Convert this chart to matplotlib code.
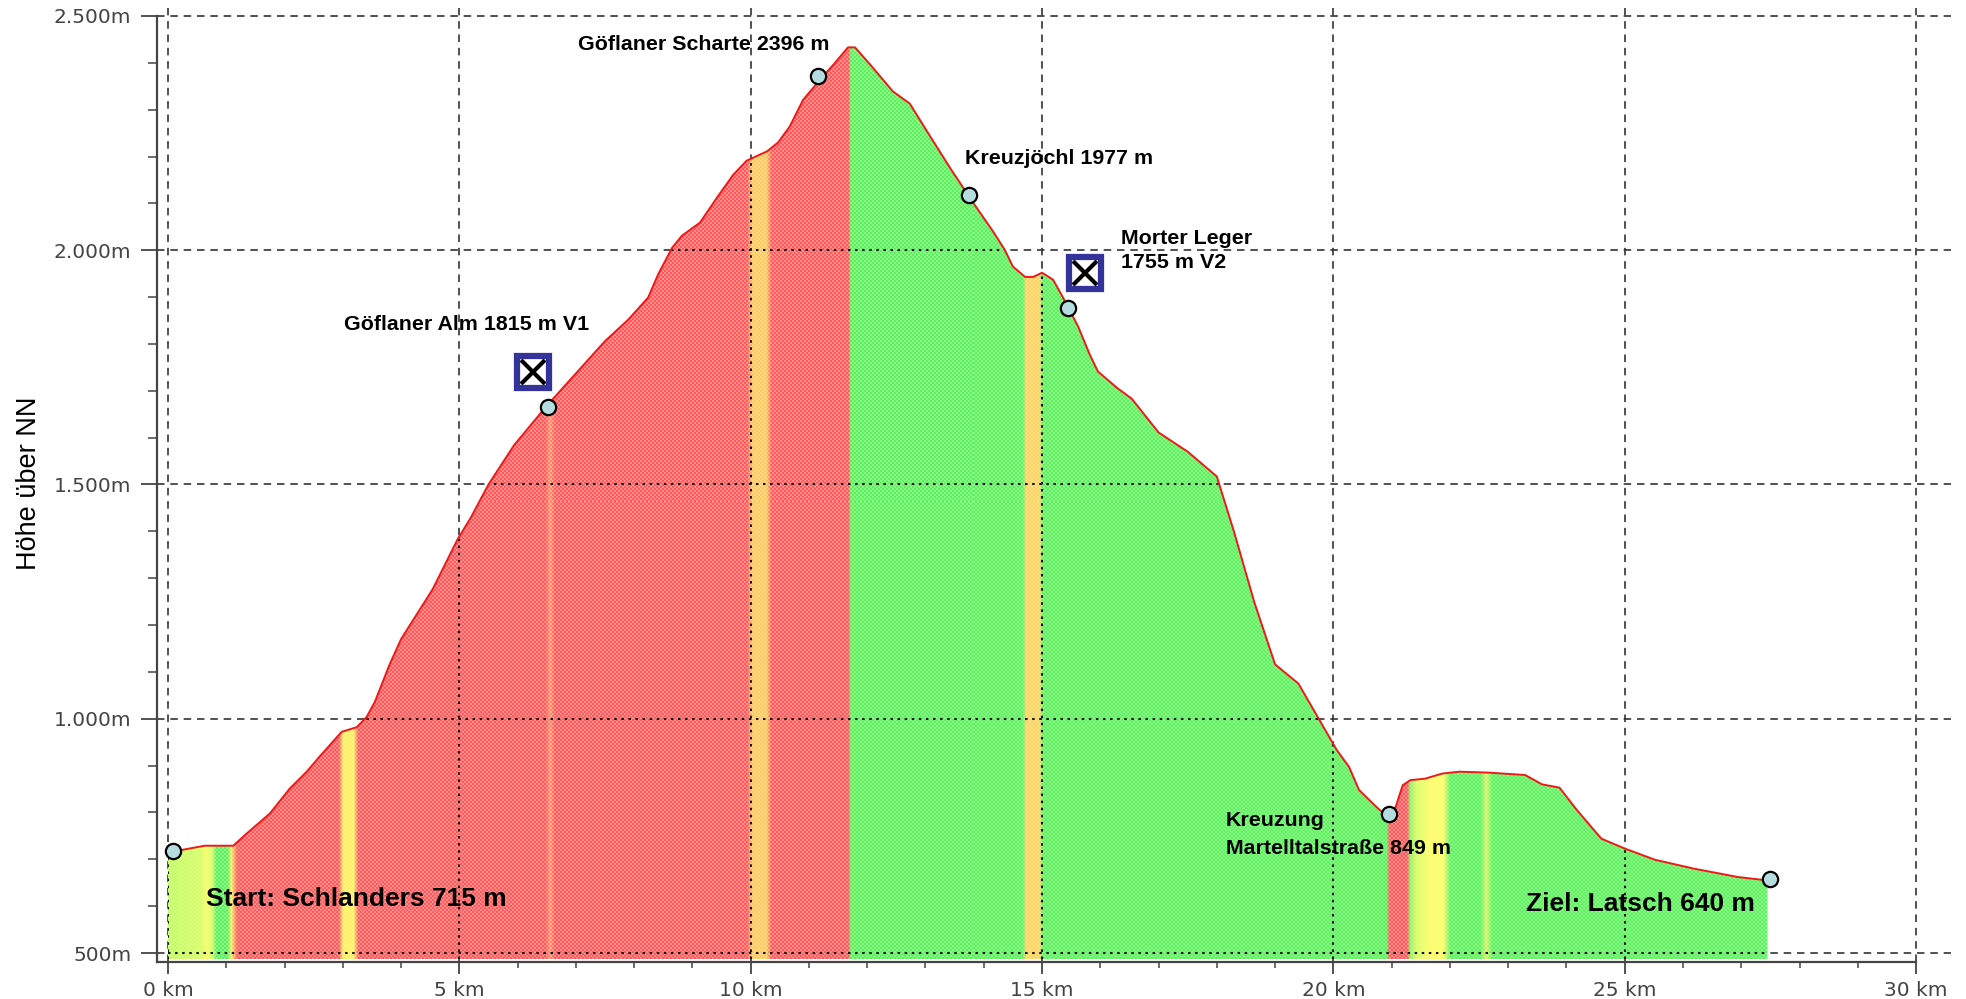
import numpy as np
import matplotlib
matplotlib.use('Agg')
import matplotlib.pyplot as plt
from matplotlib.colors import to_rgb

# elevation profile
profile_km = [0.0, 0.15, 0.63, 1.12, 1.35, 1.75, 2.09, 2.38, 2.6, 2.98, 3.24, 3.41, 3.55, 3.8, 4.0, 4.54,
              4.97, 5.2, 5.5, 5.94, 6.48, 7.0, 7.5, 7.9, 8.24, 8.41, 8.65, 8.82, 9.13, 9.42, 9.7, 9.93,
              10.28, 10.47, 10.67, 10.9, 11.19, 11.42, 11.67, 11.79, 12.08, 12.44, 12.73, 13.03, 13.42,
              13.82, 14.16, 14.36, 14.5, 14.71, 14.85, 15.0, 15.19, 15.36, 15.62, 15.82, 15.96, 16.29,
              16.54, 17.0, 17.5, 18.0, 18.3, 18.64, 19.0, 19.4, 20.06, 20.27, 20.44, 20.77, 20.94, 21.07,
              21.19, 21.32, 21.57, 21.87, 22.16, 22.66, 23.29, 23.58, 23.88, 24.18, 24.6, 25.0, 25.52,
              26.19, 26.95, 27.45]
profile_m = [715, 718, 729, 729, 755, 798, 851, 887, 919, 972, 982, 1004, 1036, 1115, 1170, 1276,
             1383, 1430, 1500, 1584, 1665, 1737, 1806, 1852, 1899, 1948, 2005, 2031, 2059, 2112, 2161, 2191,
             2211, 2230, 2264, 2321, 2364, 2396, 2433, 2433, 2392, 2339, 2313, 2253, 2176,
             2101, 2040, 2001, 1965, 1943, 1943, 1952, 1937, 1899, 1837, 1777, 1741, 1706,
             1683, 1611, 1570, 1517, 1397, 1250, 1116, 1075, 933, 897, 848, 808, 791, 812,
             858, 869, 872, 883, 887, 885, 880, 860, 853, 805, 744, 723, 699,
             680, 662, 655]

# gradient colour zones along the distance axis
zone_km = [0.0, 0.55, 0.65, 0.75, 0.82, 1.02, 1.08, 1.18, 2.93, 3.0, 3.18, 3.26, 6.48, 6.56, 6.64, 9.95,
           10.02, 10.27, 10.36, 11.68, 11.72, 14.66, 14.72, 14.95, 15.0, 20.91, 20.95, 21.27, 21.31,
           21.42, 21.66, 21.88, 22.0, 22.52, 22.62, 22.72, 27.45]
zone_col = ['#b4ff3c', '#ccff3c', '#f4ff3c', '#d0ff3c', '#3cf03c', '#3cf03c', '#ffe83c', '#ff3c3c',
            '#ff3c3c', '#ffee3c', '#ffee3c', '#ff3c3c', '#ff3c3c', '#ff7c4c', '#ff3c3c', '#ff3c3c',
            '#ffc03c', '#ffc03c', '#ff3c3c', '#ff3c3c', '#3cf03c', '#3cf03c', '#ffcc3c', '#ffcc3c', '#3cf03c',
            '#3cf03c', '#ff3c3c', '#ff3c3c', '#70f03c', '#d0ff3c', '#ffff3c', '#ffff3c', '#3cf03c',
            '#3cf03c', '#c8f83c', '#3cf03c', '#3cf03c']

# waypoints and restaurant symbols
stop_km = [0.09, 6.52, 11.15, 13.75, 15.45, 20.96, 27.5]
stop_m = [717, 1665, 2371, 2117, 1876, 797, 658]
food_km = [6.26, 15.73]
food_m = [1740, 1951]

x_major = [0, 5, 10, 15, 20, 25, 30]
x_labels = ['0 km', '5 km', '10 km', '15 km', '20 km', '25 km', '30 km']
y_major = [500, 1000, 1500, 2000, 2500]
y_labels = ['500m', '1.000m', '1.500m', '2.000m', '2.500m']

W, H = 1966, 999
fig = plt.figure(figsize=(W / 100, H / 100), dpi=100)
ax = fig.add_axes([157 / W, 1 - 962 / H, (1951 - 157) / W, (962 - 8) / H])

# axes
for s in ['top', 'right']:
    ax.spines[s].set_visible(False)
for s in ['left', 'bottom']:
    ax.spines[s].set_color('#444444')
    ax.spines[s].set_linewidth(1.6)
ax.spines['left'].set_bounds(480.8, 2500)
ax.spines['bottom'].set_bounds(-0.189, 30)
ax.set_xticks(x_major, x_labels)
ax.set_yticks(y_major, y_labels)
ax.set_xticks(range(31), minor=True)
ax.set_yticks(range(500, 2600, 100), minor=True)
ax.tick_params(axis='x', which='major', length=8.5, width=1.3, color='#444444', labelcolor='#444444',
               labelsize=14.5, pad=5)
ax.tick_params(axis='x', which='minor', length=4.5, width=1.1, color='#444444')
ax.tick_params(axis='y', which='major', length=11.5, width=1.3, color='#444444', labelcolor='#444444',
               labelsize=14.5, pad=7)
ax.tick_params(axis='y', which='minor', length=6.5, width=1.1, color='#444444')
ax.grid(True, which='major', color='#333333', lw=1.2, dashes=(4.5, 3.5), zorder=1)
ax.set_axisbelow(True)

# colored fill with the dither texture of the original
x_all = np.array(profile_km)
y_all = np.array(profile_m)
poly_x = np.concatenate([x_all, [x_all[-1], x_all[0]]])
poly_y = np.concatenate([y_all, [487, 487]])
poly = ax.fill(poly_x, poly_y, color='none', lw=0, zorder=2)[0]
n_x = int((x_all[-1] - x_all[0]) * 58.27)
n_y = int((y_all.max() - 487) * 0.4683)
x_grid = np.linspace(x_all[0], x_all[-1], n_x)
rgb = np.array([to_rgb(c) for c in zone_col])
strip = np.stack([np.interp(x_grid, zone_km, rgb[:, i]) for i in range(3)], axis=1)
yy, xx = np.mgrid[0:n_y, 0:n_x]
checker = (((xx // 2) + (yy // 2)) % 2 == 0)[..., None]
img = strip[None, :, :] + (1 - strip[None, :, :]) * np.where(checker, 0.42, 0.15)
im = ax.imshow(img, extent=(x_all[0], x_all[-1], 487, y_all.max()), origin='lower', aspect='auto',
               interpolation='nearest', zorder=2)
ax.set_xlim(-0.189, 30.6)
ax.set_ylim(480.8, 2517)
im.set_clip_path(poly)

# the grid shows through the fill as a dotted line
g1 = ax.vlines(x_major, 487, 2517, color='#111111', lw=1.5, linestyles=[(0, (1.2, 2.2))], zorder=3)
g2 = ax.hlines(y_major, 0, 30, color='#111111', lw=1.5, linestyles=[(0, (1.2, 2.2))], zorder=3)
g1.set_clip_path(poly)
g2.set_clip_path(poly)

ax.plot(x_all, y_all, color='#f01818', lw=1.4, zorder=4)
ax.plot(stop_km, stop_m, ls='none', marker='o', ms=11, mfc='#b5dde0', mec='black', mew=1.6, zorder=6,
        clip_on=False)
ax.plot(food_km, food_m, ls='none', marker='s', ms=23, mfc='white', mec='#333399', mew=4.5, zorder=6)
ax.plot(food_km, food_m, ls='none', marker='x', ms=17, mec='black', mew=3, zorder=7)


def label(px, py, txt, size):
    fig.text(px / W, 1 - py / H, txt, fontsize=size, fontweight='bold', color='black', va='center', ha='left',
             family=['Liberation Sans'], zorder=10)


label(578, 44, 'Göflaner Scharte 2396 m', 15.4)
label(965, 158, 'Kreuzjöchl 1977 m', 15.4)
label(1121, 238, 'Morter Leger', 15.4)
label(1121, 263, '1755 m V2', 15.4)
label(344, 325, 'Göflaner Alm 1815 m V1', 15.4)
label(1226, 821, 'Kreuzung', 15.4)
label(1226, 848, 'Martelltalstraße 849 m', 15.4)
label(206, 899, 'Start: Schlanders 715 m', 19)
label(1526, 904, 'Ziel: Latsch 640 m', 19)

fig.text(29 / W, 1 - 483 / H, 'Höhe über NN', rotation=90, fontsize=19.5, color='black', ha='center', va='center',
         family=['Liberation Sans'])

fig.savefig('out.png', dpi=100)
